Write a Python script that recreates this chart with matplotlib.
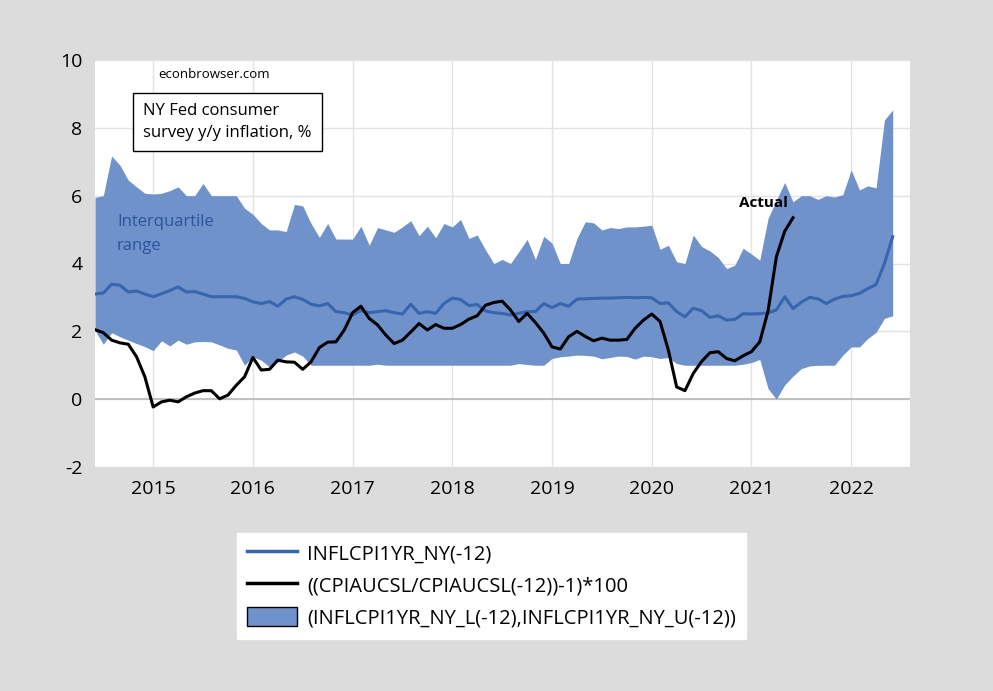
import matplotlib
matplotlib.use("Agg")
import matplotlib.pyplot as plt
import numpy as np
from matplotlib.lines import Line2D
from matplotlib.patches import Patch

plt.rcParams['font.family'] = ['Open Sans', 'DejaVu Sans']
plt.rcParams['axes.unicode_minus'] = False

# monthly data, June 2014 onward
start_year, start_month = 2014, 6

ny_upper = [5.95, 6.0, 7.17, 6.9, 6.46, 6.26, 6.07, 6.05, 6.07, 6.15, 6.26, 6.0, 6.0, 6.36, 6.0, 6.0,
            6.0, 6.0, 5.63, 5.45, 5.18, 4.99, 4.99, 4.94, 5.74, 5.70, 5.18, 4.77, 5.18, 4.72, 4.72, 4.72,
            5.1, 4.54, 5.06, 4.99, 4.92, 5.08, 5.26, 4.82, 5.1, 4.76, 5.18, 5.08, 5.3, 4.74, 4.84, 4.4,
            4.0, 4.12, 4.0, 4.35, 4.71, 4.12, 4.8, 4.6, 4.0, 4.0, 4.74, 5.23, 5.2, 4.99, 5.06, 5.03,
            5.08, 5.08, 5.1, 5.13, 4.42, 4.54, 4.05, 4.0, 4.84, 4.5, 4.37, 4.18, 3.85, 3.95, 4.45, 4.28,
            4.1, 5.33, 5.87, 6.39, 5.82, 6.0, 6.0, 5.89, 6.0, 5.96, 6.03, 6.76, 6.17, 6.29, 6.23, 8.23, 8.53]

ny_median = [3.1, 3.13, 3.39, 3.36, 3.16, 3.19, 3.1, 3.02, 3.11, 3.2, 3.31, 3.16, 3.17, 3.1, 3.02, 3.02,
             3.02, 3.02, 2.97, 2.87, 2.82, 2.88, 2.74, 2.95, 3.02, 2.94, 2.8, 2.75, 2.82, 2.58, 2.55, 2.48,
             2.61, 2.55, 2.58, 2.61, 2.55, 2.51, 2.8, 2.53, 2.58, 2.53, 2.82, 2.98, 2.94, 2.76, 2.79, 2.6,
             2.55, 2.53, 2.48, 2.53, 2.58, 2.58, 2.82, 2.7, 2.82, 2.74, 2.95, 2.96, 2.97, 2.98, 2.98, 2.99,
             3.0, 2.99, 3.0, 2.99, 2.82, 2.84, 2.58, 2.43, 2.68, 2.61, 2.41, 2.46, 2.33, 2.35, 2.52, 2.51,
             2.52, 2.54, 2.63, 3.02, 2.67, 2.86, 3.0, 2.96, 2.82, 2.95, 3.03, 3.05, 3.12, 3.26, 3.38, 4.0, 4.79]

ny_lower = [2.03, 1.62, 1.96, 1.84, 1.74, 1.64, 1.55, 1.43, 1.72, 1.57, 1.74, 1.62, 1.69, 1.7, 1.69, 1.6,
            1.5, 1.45, 1.0, 1.25, 1.15, 0.95, 1.1, 1.3, 1.39, 1.27, 1.0, 1.0, 1.0, 1.0, 1.0, 1.0,
            1.0, 1.0, 1.03, 1.0, 1.0, 1.0, 1.0, 1.0, 1.0, 1.0, 1.0, 1.0, 1.0, 1.0, 1.0, 1.0,
            1.0, 1.0, 1.0, 1.05, 1.02, 1.0, 1.0, 1.2, 1.25, 1.27, 1.3, 1.29, 1.27, 1.19, 1.23, 1.27,
            1.26, 1.18, 1.27, 1.25, 1.2, 1.23, 1.05, 1.0, 1.0, 1.0, 1.0, 1.0, 1.0, 1.0, 1.03, 1.08,
            1.17, 0.31, 0.0, 0.42, 0.68, 0.9, 0.98, 1.0, 1.0, 1.0, 1.3, 1.54, 1.54, 1.79, 1.97, 2.38, 2.46]

cpi_yoy = [2.05, 1.96, 1.74, 1.66, 1.62, 1.25, 0.66, -0.23, -0.08, -0.03, -0.08, 0.07, 0.18, 0.25, 0.25, 0.01,
           0.12, 0.41, 0.66, 1.23, 0.86, 0.88, 1.15, 1.1, 1.09, 0.88, 1.1, 1.52, 1.68, 1.69, 2.04, 2.55,
           2.74, 2.38, 2.19, 1.89, 1.64, 1.74, 1.98, 2.23, 2.04, 2.2, 2.09, 2.09, 2.2, 2.36, 2.46, 2.77,
           2.85, 2.89, 2.63, 2.29, 2.53, 2.26, 1.95, 1.54, 1.48, 1.84, 2.0, 1.85, 1.72, 1.8, 1.74, 1.74,
           1.76, 2.09, 2.33, 2.51, 2.29, 1.45, 0.36, 0.25, 0.76, 1.11, 1.37, 1.4, 1.2, 1.13, 1.28, 1.4,
           1.69, 2.6, 4.2, 4.95, 5.35]

years = [2015, 2016, 2017, 2018, 2019, 2020, 2021, 2022]

t_ny = start_year + (start_month - 1 + np.arange(len(ny_median))) / 12
t_cpi = start_year + (start_month - 1 + np.arange(len(cpi_yoy))) / 12

band_color = '#7092CB'
median_color = '#3765AE'

fig = plt.figure(figsize=(9.93, 6.91), dpi=100, facecolor='#DCDCDC')
ax = fig.add_axes([95/993, 1 - 467/691, 815/993, 407/691])
ax.set_facecolor('white')

ax.fill_between(t_ny, ny_lower, ny_upper, color=band_color, lw=0, zorder=2)
ax.plot(t_ny, ny_median, color=median_color, lw=2.2, zorder=3)
ax.plot(t_cpi, cpi_yoy, color='black', lw=2.2, zorder=4)
ax.axhline(0, color='#B8B8B8', lw=1.2, zorder=1)

ax.set_xlim(t_ny[0], 2022.59)
ax.set_ylim(-2, 10)
ax.set_xticks(years)
ax.set_xticklabels([str(y) for y in years])
ax.set_yticks(range(-2, 11, 2))
ax.grid(True, color='#E3E3E3', lw=1, zorder=0)
ax.set_axisbelow(True)
ax.tick_params(length=0, labelsize=14, pad=9)
for s in ax.spines.values():
    s.set_visible(False)

fig.text(158/993, 1 - 75/691, 'econbrowser.com', fontsize=9.5, va='center', ha='left')
fig.text(143/993, 1 - 122/691, 'NY Fed consumer\nsurvey y/y inflation, %', fontsize=12,
         va='center', ha='left', linespacing=1.55,
         bbox=dict(boxstyle='square,pad=0.6', facecolor='white', edgecolor='black', lw=1))
fig.text(117/993, 1 - 234/691, 'Interquartile\nrange', fontsize=12, color='#2A5599',
         va='center', ha='left', linespacing=1.6)
fig.text(763/993, 1 - 203/691, 'Actual', fontsize=11, fontweight='bold', va='center', ha='center')

handles = [Line2D([], [], color=median_color, lw=2.5),
           Line2D([], [], color='black', lw=2.5),
           Patch(facecolor=band_color, edgecolor='black', lw=1)]
labels = ['INFLCPI1YR_NY(-12)', '((CPIAUCSL/CPIAUCSL(-12))-1)*100',
          '(INFLCPI1YR_NY_L(-12),INFLCPI1YR_NY_U(-12))']
leg = fig.legend(handles, labels, loc='upper left', bbox_to_anchor=(237/993, 1 - 533/691),
                 borderaxespad=0, fontsize=14.5, frameon=True, fancybox=False, framealpha=1,
                 handlelength=2.5, handleheight=1.1, labelspacing=0.52, borderpad=0.5,
                 handletextpad=0.5)
leg.get_frame().set_facecolor('white')
leg.get_frame().set_edgecolor('white')

fig.savefig('out.png', dpi=100, facecolor=fig.get_facecolor())
